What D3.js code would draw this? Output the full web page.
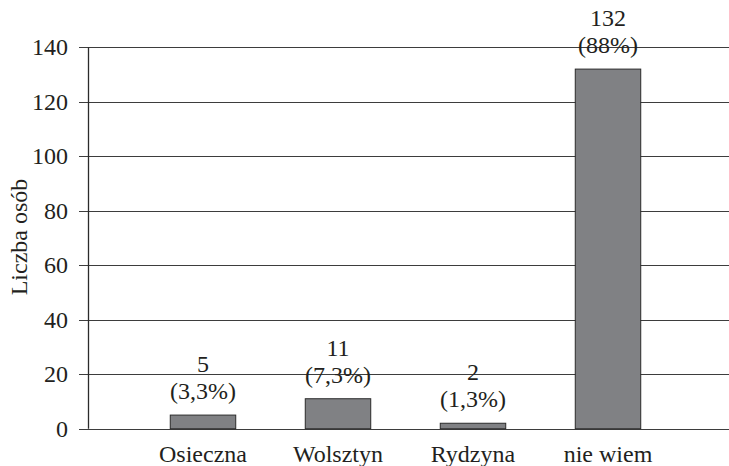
<!DOCTYPE html>
<html>
<head>
<meta charset="utf-8">
<script src="https://cdn.jsdelivr.net/npm/d3@7"></script>
<style>
  html, body { margin: 0; padding: 0; background: #fff; }
  svg { display: block; }
  text { font-family: "Liberation Serif", "Times New Roman", serif; fill: #231f20; }
</style>
</head>
<body>
<svg id="chart" width="729" height="466"></svg>
<script>
const categories = ["Osieczna", "Wolsztyn", "Rydzyna", "nie wiem"];
const values = [5, 11, 2, 132];
const percentLabels = ["(3,3%)", "(7,3%)", "(1,3%)", "(88%)"];
const yTicks = [0, 20, 40, 60, 80, 100, 120, 140];
const yTitle = "Liczba osób";

const svg = d3.select("#chart");
const W = 729, H = 466;
const axisX = 88;

const y = d3.scaleLinear().domain([0, 140]).range([428.7, 47.3]);
const x = d3.scaleBand().domain(categories).range([135.5, 675.5])
  .paddingInner(0.515).paddingOuter(0.2575);

// gridlines
const grid = svg.append("g");
grid.selectAll("line").data(yTicks).enter().append("line")
  .attr("x1", axisX - 9).attr("x2", W)
  .attr("y1", d => Math.round(y(d)) + 0.5).attr("y2", d => Math.round(y(d)) + 0.5)
  .attr("stroke", "#3d3d3d").attr("stroke-width", 1.2);

// tick labels
svg.append("g").selectAll("text").data(yTicks).enter().append("text")
  .attr("x", 68).attr("y", d => y(d) + 8)
  .attr("text-anchor", "end").attr("font-size", 24)
  .text(d => d);

// y axis line
svg.append("line")
  .attr("x1", axisX + 0.5).attr("x2", axisX + 0.5)
  .attr("y1", y(140)).attr("y2", y(0))
  .attr("stroke", "#2b2b2b").attr("stroke-width", 1.3);

// bars
svg.append("g").selectAll("rect").data(values).enter().append("rect")
  .attr("x", (d, i) => x(categories[i]))
  .attr("width", x.bandwidth())
  .attr("y", d => y(d))
  .attr("height", d => y(0) - y(d))
  .attr("fill", "#808184")
  .attr("stroke", "#2b2b2b").attr("stroke-width", 1);

// value labels
const lab = svg.append("g");
lab.selectAll("text.count").data(values).enter().append("text")
  .attr("class", "count")
  .attr("x", (d, i) => x(categories[i]) + x.bandwidth() / 2)
  .attr("y", d => y(d) - 43)
  .attr("text-anchor", "middle").attr("font-size", 24)
  .text(d => d);
lab.selectAll("text.pct").data(values).enter().append("text")
  .attr("class", "pct")
  .attr("x", (d, i) => x(categories[i]) + x.bandwidth() / 2)
  .attr("y", d => y(d) - 16)
  .attr("text-anchor", "middle").attr("font-size", 24)
  .text((d, i) => percentLabels[i]);

// category labels
svg.append("g").selectAll("text").data(categories).enter().append("text")
  .attr("x", d => x(d) + x.bandwidth() / 2)
  .attr("y", 462)
  .attr("text-anchor", "middle").attr("font-size", 24)
  .text(d => d);

// y title
svg.append("text")
  .attr("transform", "translate(26.5,237) rotate(-90)")
  .attr("text-anchor", "middle").attr("font-size", 24)
  .text(yTitle);
</script>
</body>
</html>
